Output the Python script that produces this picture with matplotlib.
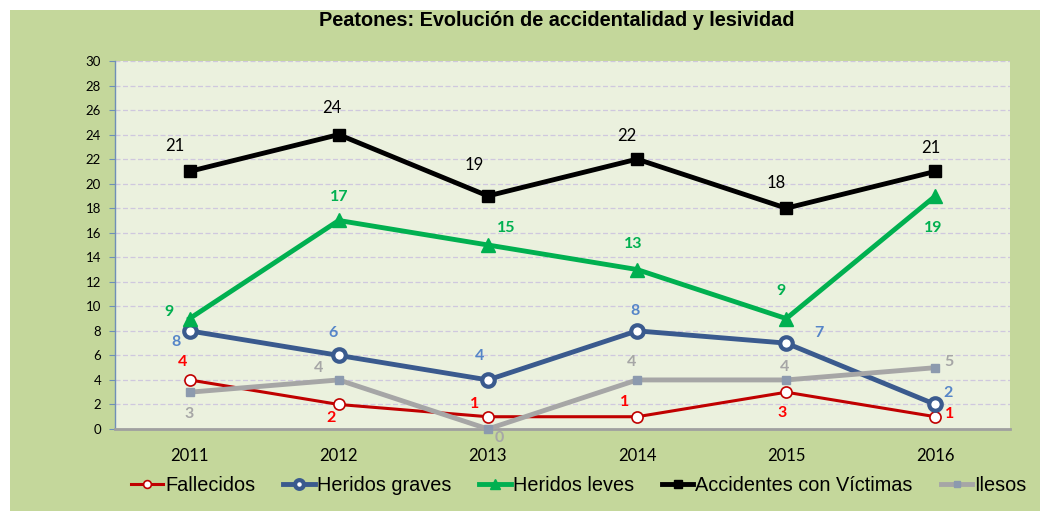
import matplotlib
matplotlib.use("Agg")
import matplotlib.pyplot as plt
from matplotlib.patches import Rectangle

years = ["2011", "2012", "2013", "2014", "2015", "2016"]
fallecidos = [4, 2, 1, 1, 3, 1]
heridos_graves = [8, 6, 4, 8, 7, 2]
heridos_leves = [9, 17, 15, 13, 9, 19]
accidentes = [21, 24, 19, 22, 18, 21]
ilesos = [3, 4, 0, 4, 4, 5]

title = "Peatones: Evolución de accidentalidad y lesividad"

# label offsets in pixels (placement styling)
off_fal = [(-7, 18), (-8, -14), (-13, 13), (-13, 15), (-4, -21), (14, 3)]
off_hg = [(-14, -11), (-6, 22), (-8, 24), (-2, 20), (33, 10), (13, 11)]
off_hl = [(-21, 7), (0, 23), (18, 17), (-4, 26), (-5, 28), (-2, -32)]
off_acc = [(-15, 25), (-7, 27), (-14, 31), (-10, 23), (-10, 25), (-5, 23)]
off_il = [(0, -22), (-20, 12), (11, -9), (-6, 18), (-2, 13), (14, 6)]

W, H = 1040, 511
fig = plt.figure(figsize=(W / 100, H / 100), dpi=100)
fig.patch.set_facecolor("white")
fig.patches.append(Rectangle((10 / W, 0), 1 - 10 / W, 1 - 10 / H, transform=fig.transFigure,
                             facecolor="#C4D79B", edgecolor="none", zorder=-10))

ax = fig.add_axes([115 / W, 1 - 429 / H, (1010 - 115) / W, (429 - 61) / H])
ax.set_zorder(1)
ax.set_facecolor("#EBF1DE")
x = list(range(len(years)))
ax.set_xlim(-0.5, len(years) - 0.5)
ax.set_ylim(0, 30)
ax.set_yticks(range(0, 31, 2))
ax.set_xticks(x)
ax.set_xticklabels(years)
ax.yaxis.grid(True, linestyle=(0, (4, 2)), color="#CFC8DE", linewidth=0.9)
ax.set_axisbelow(True)
for s in ["top", "right"]:
    ax.spines[s].set_visible(False)
ax.spines["left"].set_color("#6F8FB8")
ax.spines["left"].set_linewidth(1.0)
ax.spines["bottom"].set_color("#A0A0A0")
ax.spines["bottom"].set_linewidth(2.0)
ax.tick_params(axis="y", length=4, color="#6F8FB8", labelsize=9.5, pad=6)
ax.tick_params(axis="x", length=0, labelsize=12, pad=14)
for lab in ax.get_yticklabels():
    lab.set_fontfamily("Lato")
for lab in ax.get_xticklabels():
    lab.set_fontfamily("Lato")

series = [
    ("Fallecidos", fallecidos, dict(color="#C00000", lw=2.2, marker="o", ms=8, mfc="white",
                                     mec="#C00000", mew=1.2), "#FF0000", "bold", off_fal),
    ("Heridos graves", heridos_graves, dict(color="#3A5A8E", lw=3.5, marker="o", ms=9, mfc="white",
                                            mec="#3A5A8E", mew=3.0), "#5585C8", "bold", off_hg),
    ("Heridos leves", heridos_leves, dict(color="#00B050", lw=3.5, marker="^", ms=10, mfc="#00B050",
                                          mec="#00B050"), "#00B050", "bold", off_hl),
    ("Accidentes con Víctimas", accidentes, dict(color="black", lw=3.5, marker="s", ms=9, mfc="black",
                                                 mec="black"), "black", "normal", off_acc),
    ("Ilesos", ilesos, dict(color="#A6A6A6", lw=3.5, marker="s", ms=6, mfc="#8C9AAE",
                            mec="#8C9AAE"), "#A6A6A6", "bold", off_il),
]

handles = []
for name, vals, style, lcol, weight, offs in series:
    h, = ax.plot(x, vals, label=name, zorder=3, clip_on=False, **style)
    handles.append(h)
    for xi, v, (dx, dy) in zip(x, vals, offs):
        ax.annotate(str(v), (xi, v), xytext=(dx, dy), textcoords="offset pixels",
                    ha="center", va="center", color=lcol, fontsize=12 if weight == "normal" else 11.5,
                    fontweight=weight, family="Lato", zorder=5)

fig.text(557 / W, 1 - 21 / H, title, ha="center", va="center", fontsize=14.3,
         fontweight="bold", family="Liberation Sans")

leg = fig.legend(handles=handles, loc="center", bbox_to_anchor=(579 / W, 1 - 485 / H), ncol=5,
                 frameon=False, handlelength=1.6, handletextpad=0.1, columnspacing=1.4,
                 markerscale=0.7, prop=dict(family="Liberation Sans", size=14.3))

fig.savefig("out.png", dpi=100, facecolor=fig.get_facecolor())
